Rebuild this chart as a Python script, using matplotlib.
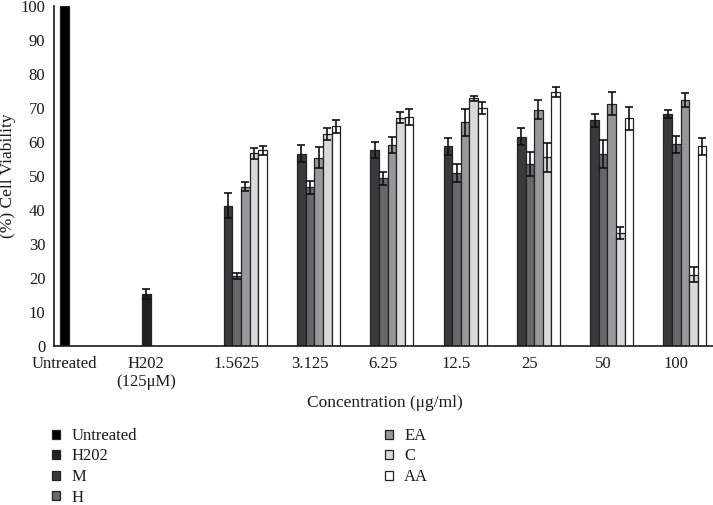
import matplotlib
matplotlib.use("Agg")
import matplotlib.pyplot as plt
from matplotlib.patches import Rectangle
import numpy as np

plt.rcParams['font.family'] = ['Liberation Serif', 'DejaVu Serif']

categories = ["Untreated", "H202\n(125\u03bcM)", "1.5625", "3.125", "6.25", "12.5", "25", "50", "100"]
series = ["Untreated", "H202", "M", "H", "EA", "C", "AA"]

untreated_val = [100.0]
untreated_err = [0.0]
h202_val = [15.3]
h202_err = [1.6]

# concentration groups: 1.5625 ... 100
M_val  = [41.3, 56.6, 57.6, 58.8, 61.5, 66.4, 68.3]
M_err  = [3.6, 2.5, 2.3, 2.5, 2.5, 1.9, 1.2]
H_val  = [20.6, 46.7, 49.3, 50.9, 53.6, 56.5, 59.3]
H_err  = [1.0, 1.9, 2.0, 2.7, 3.5, 4.0, 2.5]
EA_val = [46.9, 55.4, 59.1, 65.8, 69.5, 71.2, 72.3]
EA_err = [1.3, 3.0, 2.3, 4.0, 2.8, 3.4, 2.0]
C_val  = [56.7, 62.4, 67.2, 72.8, 55.5, 33.3, 21.0]
C_err  = [1.6, 1.7, 1.5, 0.7, 4.3, 1.8, 2.1]
AA_val = [57.6, 64.6, 67.4, 70.0, 74.7, 67.0, 58.8]
AA_err = [1.3, 1.9, 2.4, 1.9, 1.6, 3.4, 2.5]

colors = ["#000000", "#202020", "#3a3a3d", "#68686c", "#98989a", "#d9d9d9", "#ffffff"]

W, H = 713, 505
fig = plt.figure(figsize=(W / 100, H / 100), dpi=100)
ax = fig.add_axes([53.6 / W, (H - 346) / H, (W - 53.6) / W, 340 / H])

n_slots = 7
bw = 0.1173
x = np.arange(len(categories))

def offs(slot):
    return (slot - (n_slots - 1) / 2) * bw

conc_x = x[2:]
data = [
    (x[:1], untreated_val, untreated_err),
    (x[1:2], h202_val, h202_err),
    (conc_x, M_val, M_err),
    (conc_x, H_val, H_err),
    (conc_x, EA_val, EA_err),
    (conc_x, C_val, C_err),
    (conc_x, AA_val, AA_err),
]
handles = []
for slot, (xs, vals, errs) in enumerate(data):
    pos = xs + offs(slot)
    ax.bar(pos, vals, width=bw, color=colors[slot], edgecolor="#222222",
           linewidth=0.9, zorder=2)
    e = np.array(errs)
    mask = e > 0
    if mask.any():
        ax.errorbar(pos[mask], np.array(vals)[mask], yerr=e[mask], fmt="none",
                    ecolor="#111111", elinewidth=1.2, capsize=2.8, capthick=1.2, zorder=3)
    handles.append(Rectangle((0, 0), 1, 1, facecolor=colors[slot], edgecolor="#222222", linewidth=0.9))

ax.set_xlim(-0.5, len(categories) - 0.5)
ax.set_ylim(0, 100)
ax.set_yticks(np.arange(0, 101, 10))
tick_pos = list(x.astype(float))
tick_pos[0] = x[0] + offs(0)
tick_pos[1] = x[1] + offs(1)
ax.set_xticks(tick_pos)
ax.set_xticklabels(categories, fontsize=12)
ax.tick_params(axis='both', length=0, labelsize=12, colors="#1a1a1a")
ax.tick_params(axis='x', pad=7)
ax.tick_params(axis='y', pad=6)
for s in ["top", "right"]:
    ax.spines[s].set_visible(False)
for s in ["left", "bottom"]:
    ax.spines[s].set_linewidth(1.2)
    ax.spines[s].set_color("#1a1a1a")

ax.set_ylabel("(%) Cell Viability", fontsize=12.5, color="#1a1a1a")
ax.yaxis.set_label_coords((16 - 53.6) / (W - 53.6), 0.5)
fig.text(385 / W, 1 - 403 / H, "Concentration (\u03bcg/ml)", ha="center", va="center",
         fontsize=12.5, color="#1a1a1a")

leg = fig.legend(handles, series, loc="upper left", bbox_to_anchor=(37 / W, 1 - 413 / H),
                 ncol=2, frameon=False, fontsize=12, handlelength=0.45, handleheight=0.45,
                 handletextpad=0.7, columnspacing=14.9, labelspacing=0.27)
for t in leg.get_texts():
    t.set_color("#1a1a1a")

fig.savefig("out.png", dpi=100)
